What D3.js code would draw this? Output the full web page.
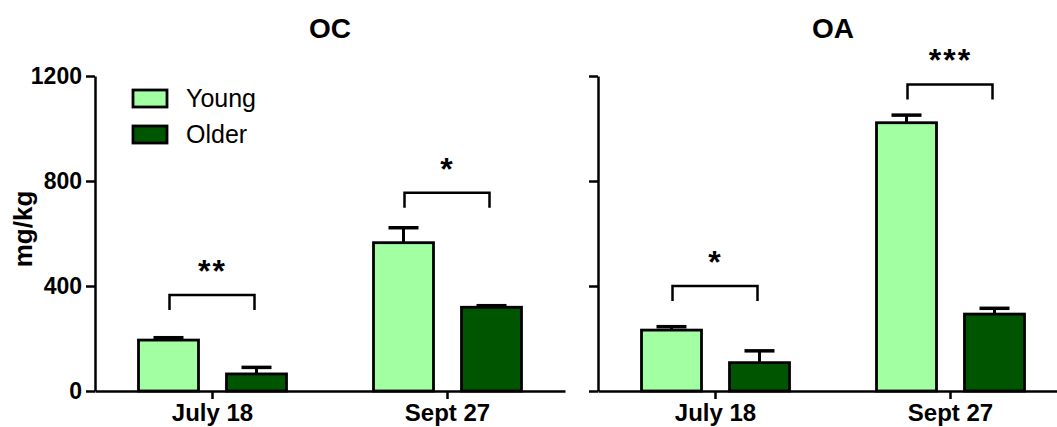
<!DOCTYPE html>
<html>
<head>
<meta charset="utf-8">
<script src="https://cdn.jsdelivr.net/npm/d3@7"></script>
<style>
  body { margin: 0; background: #fff; }
  text { font-family: "Liberation Sans", Arial, Helvetica, sans-serif; }
</style>
</head>
<body>
<script>
var width = 1057;
var height = 427;

// data
var categories = ["July 18", "Sept 27"];
var groups = ["Young", "Older"];
var yTicks = [0, 400, 800, 1200];

var ocYoung = [194, 565];
var ocYoungErr = [9, 57];
var ocOlder = [65, 319];
var ocOlderErr = [25, 6];
var ocSig = ["**", "*"];
var ocBracket = [366, 755];

var oaYoung = [232, 1022];
var oaYoungErr = [13, 29];
var oaOlder = [108, 293];
var oaOlderErr = [45, 22];
var oaSig = ["*", "***"];
var oaBracket = [400, 1168];

var colors = {Young: "#a2ffa2", Older: "#005500"};

var svg = d3.select("body")
    .append("svg")
        .attr("width", width)
        .attr("height", height);

var y = d3.scaleLinear().domain([0, 1200]).range([391, 76]);

var xSub = d3.scaleBand()
    .domain(groups)
    .range([-74, 74])
    .paddingInner(28 / 88)
    .paddingOuter(0);

function panel(title, x0, young, youngErr, older, olderErr, sig, bracket, showLabels) {
  var x = d3.scaleBand().domain(categories).range([x0, x0 + 470]);
  var g = svg.append("g");

  var rows = [];
  categories.forEach(function(c, i) {
    rows.push({cat: c, grp: "Young", v: young[i], e: youngErr[i]});
    rows.push({cat: c, grp: "Older", v: older[i], e: olderErr[i]});
  });

  // error bars (upper only)
  var cx = function(d) { return x(d.cat) + x.bandwidth() / 2 + xSub(d.grp) + xSub.bandwidth() / 2; };
  g.selectAll(".err").data(rows).enter().append("line")
      .attr("x1", cx).attr("x2", cx)
      .attr("y1", function(d) { return y(d.v); })
      .attr("y2", function(d) { return y(d.v + d.e); })
      .attr("stroke", "black").attr("stroke-width", 3);
  g.selectAll(".cap").data(rows).enter().append("line")
      .attr("x1", function(d) { return cx(d) - 15; })
      .attr("x2", function(d) { return cx(d) + 15; })
      .attr("y1", function(d) { return y(d.v + d.e); })
      .attr("y2", function(d) { return y(d.v + d.e); })
      .attr("stroke", "black").attr("stroke-width", 3.5);

  g.selectAll(".bar").data(rows).enter().append("rect")
      .attr("x", function(d) { return x(d.cat) + x.bandwidth() / 2 + xSub(d.grp); })
      .attr("width", xSub.bandwidth())
      .attr("y", function(d) { return y(d.v); })
      .attr("height", function(d) { return y(0) - y(d.v); })
      .attr("fill", function(d) { return colors[d.grp]; })
      .attr("stroke", "black")
      .attr("stroke-width", 2.8);

  // significance brackets
  categories.forEach(function(c, i) {
    var c0 = x(c) + x.bandwidth() / 2;
    var by = y(bracket[i]);
    g.append("path")
        .attr("d", d3.line()([[c0 - 43, by + 15], [c0 - 43, by], [c0 + 42, by], [c0 + 42, by + 15]]))
        .attr("fill", "none").attr("stroke", "black").attr("stroke-width", 2.5);
    g.append("text")
        .attr("x", c0)
        .attr("y", by - 13)
        .attr("text-anchor", "middle")
        .attr("font-size", 32)
        .attr("font-weight", "bold")
        .attr("letter-spacing", 2)
        .text(sig[i]);
  });

  var yAxis = g.append("g")
      .attr("transform", "translate(" + x0 + ",0)")
      .call(d3.axisLeft(y).tickValues(yTicks).tickFormat(d3.format("d"))
        .tickSize(9).tickSizeOuter(0).tickPadding(4));
  if (!showLabels) yAxis.selectAll("text").remove();

  var xAxis = g.append("g")
      .attr("transform", "translate(0," + y(0) + ")")
      .call(d3.axisBottom(x).tickSize(8).tickSizeOuter(0).tickPadding(5));

  g.selectAll(".domain, .tick line").attr("stroke", "black").attr("stroke-width", 2.5);
  yAxis.selectAll("text").attr("font-size", 23).attr("font-weight", "bold").attr("fill", "black")
      .style("font-family", "'Liberation Sans', Arial, sans-serif");
  xAxis.selectAll("text").attr("font-size", 24).attr("font-weight", "bold").attr("fill", "black")
      .style("font-family", "'Liberation Sans', Arial, sans-serif");

  g.append("text")
      .attr("x", x0 + 235)
      .attr("y", 38)
      .attr("text-anchor", "middle")
      .attr("font-size", 28)
      .attr("font-weight", "bold")
      .text(title);
}

panel("OC", 95, ocYoung, ocYoungErr, ocOlder, ocOlderErr, ocSig, ocBracket, true);
panel("OA", 598, oaYoung, oaYoungErr, oaOlder, oaOlderErr, oaSig, oaBracket, false);

// y label
svg.append("text")
    .attr("transform", "translate(32,229) rotate(-90)")
    .attr("text-anchor", "middle")
    .attr("font-size", 26)
    .attr("font-weight", "bold")
    .text("mg/kg");

// legend
var legend = svg.append("g").attr("transform", "translate(133,90)");
groups.forEach(function(gname, i) {
  legend.append("rect")
      .attr("x", 0).attr("y", i * 36)
      .attr("width", 34).attr("height", 17)
      .attr("fill", colors[gname])
      .attr("stroke", "black").attr("stroke-width", 2.8);
  legend.append("text")
      .attr("x", 53).attr("y", i * 36 + 17)
      .attr("font-size", 25)
      .text(gname);
});
</script>
</body>
</html>
